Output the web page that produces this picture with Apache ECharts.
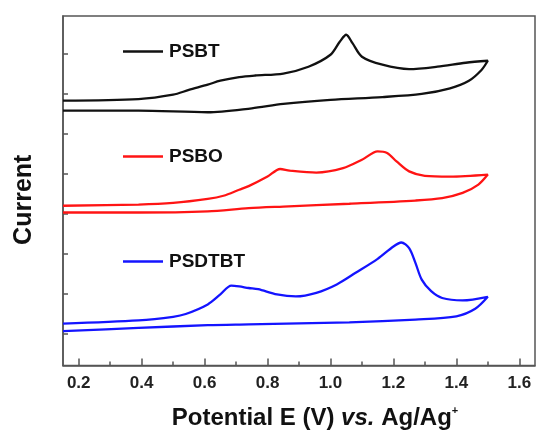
<!DOCTYPE html>
<html>
<head>
<meta charset="utf-8">
<script src="https://cdn.jsdelivr.net/npm/echarts@6/dist/echarts.min.js"></script>
<style>
  html, body { margin: 0; padding: 0; background: #fff; }
  #cv { width: 537px; height: 435px; }
</style>
</head>
<body>
<div id="cv"></div>
<script>
// potential (V) and current (a.u., stacked): forward scan then reverse
const psbtE = [0.15, 0.39, 0.50, 0.55, 0.61, 0.65, 0.71, 0.76, 0.85, 0.93, 1.00, 1.03, 1.05, 1.07, 1.10, 1.165, 1.25, 1.34, 1.43, 1.50,
               1.48, 1.44, 1.38, 1.29, 1.165, 1.00, 0.85, 0.75, 0.61, 0.39, 0.15];
const psbtI = [6.63, 6.67, 6.78, 6.90, 7.03, 7.13, 7.22, 7.26, 7.31, 7.48, 7.78, 8.11, 8.28, 8.07, 7.73, 7.53, 7.42, 7.48, 7.58, 7.63,
               7.40, 7.13, 6.94, 6.80, 6.72, 6.65, 6.55, 6.44, 6.34, 6.38, 6.38];

const psboE = [0.15, 0.39, 0.50, 0.61, 0.66, 0.71, 0.74, 0.80, 0.84, 0.87, 0.955, 1.04, 1.10, 1.15, 1.18, 1.21, 1.25, 1.30, 1.38, 1.50,
               1.47, 1.42, 1.355, 1.27, 1.06, 0.85, 0.74, 0.61, 0.39, 0.15];
const psboI = [4.00, 4.03, 4.07, 4.17, 4.25, 4.40, 4.49, 4.73, 4.92, 4.88, 4.83, 4.94, 5.15, 5.36, 5.32, 5.11, 4.86, 4.75, 4.73, 4.78,
               4.53, 4.32, 4.19, 4.13, 4.05, 3.98, 3.94, 3.86, 3.83, 3.83];

const psdtbtE = [0.15, 0.39, 0.50, 0.54, 0.61, 0.65, 0.685, 0.71, 0.74, 0.77, 0.83, 0.89, 0.955, 1.02, 1.08, 1.15, 1.20, 1.225, 1.25, 1.27, 1.29, 1.32, 1.355, 1.42, 1.50,
                 1.46, 1.40, 1.27, 1.06, 0.74, 0.61, 0.39, 0.15];
const psdtbtI = [1.05, 1.13, 1.22, 1.29, 1.53, 1.78, 2.00, 1.98, 1.94, 1.91, 1.78, 1.73, 1.82, 2.03, 2.32, 2.67, 2.98, 3.08, 2.94, 2.57, 2.15, 1.86, 1.69, 1.63, 1.72,
                 1.42, 1.23, 1.15, 1.08, 1.03, 1.01, 0.94, 0.86];

const names = ['PSBT', 'PSBO', 'PSDTBT'];
const colors = ['#111111', '#ff1414', '#1414ff'];
const xMajor = [0.2, 0.4, 0.6, 0.8, 1.0, 1.2, 1.4, 1.6];
const xMinor = [0.3, 0.5, 0.7, 0.9, 1.1, 1.3, 1.5];
const yTicks = [0.8, 1.8, 2.8, 3.8, 4.8, 5.8, 6.8, 7.8];

function pairs(xs, ys) {
    return xs.map((x, i) => [x, ys[i]]);
}

const chart = echarts.init(document.getElementById('cv'));
const font = 'Liberation Sans, Arial, sans-serif';
const axisGray = '#555';
const legendTops = [42, 147, 252];

chart.setOption({
    animation: false,
    grid: { left: 63, right: 2, top: 16, bottom: 69, show: true, borderColor: axisGray, borderWidth: 1.5 },
    legend: names.map((n, i) => ({
        data: [n], left: 123, top: legendTops[i], padding: 0,
        icon: 'rect', itemWidth: 40, itemHeight: 2.5, itemGap: 0,
        textStyle: { fontFamily: font, fontWeight: 'bold', fontSize: 19, color: '#111', padding: [0, 0, 0, 1] }
    })),
    xAxis: [{
        type: 'value', min: 0.15, max: 1.65, position: 'bottom',
        name: '{a|Potential E (V) }{b|vs.}{a| Ag/Ag}{c|+}',
        nameLocation: 'middle', nameGap: 40,
        nameTextStyle: {
            padding: [0, 0, 0, 32],
            rich: {
                a: { fontFamily: font, fontWeight: 'bold', fontSize: 24, color: '#111' },
                b: { fontFamily: font, fontWeight: 'bold', fontStyle: 'italic', fontSize: 24, color: '#111' },
                c: { fontFamily: font, fontWeight: 'bold', fontSize: 11, color: '#111', verticalAlign: 'top', padding: [0, 0, 14, 0] }
            }
        },
        splitLine: { show: false },
        axisLine: { lineStyle: { color: axisGray, width: 1.5 } },
        axisTick: { inside: true, length: 7, customValues: xMajor, lineStyle: { color: axisGray, width: 1.5 } },
        axisLabel: {
            customValues: xMajor, margin: 9,
            fontFamily: font, fontWeight: 'bold', fontSize: 17, color: '#222',
            formatter: v => v.toFixed(1)
        }
    }, {
        type: 'value', min: 0.15, max: 1.65, position: 'bottom', offset: 0,
        splitLine: { show: false },
        axisLine: { show: false },
        axisTick: { inside: true, length: 4, customValues: xMinor, lineStyle: { color: axisGray, width: 1.5 } },
        axisLabel: { show: false }
    }],
    yAxis: {
        type: 'value', min: 0, max: 8.75,
        name: 'Current', nameLocation: 'middle', nameGap: 26,
        nameTextStyle: { fontFamily: font, fontWeight: 'bold', fontSize: 25, color: '#111', padding: [0, 18, 0, 0] },
        splitLine: { show: false },
        axisLine: { show: true, lineStyle: { color: axisGray, width: 1.5 } },
        axisTick: { show: true, inside: true, length: 5, customValues: yTicks, lineStyle: { color: axisGray, width: 1.5 } },
        axisLabel: { show: false }
    },
    series: [
        pairs(psbtE, psbtI), pairs(psboE, psboI), pairs(psdtbtE, psdtbtI)
    ].map((d, i) => ({
        name: names[i], type: 'line', xAxisIndex: 0, data: d,
        symbol: 'none', smooth: 0.3,
        lineStyle: { color: colors[i], width: 2.3 },
        itemStyle: { color: colors[i] }
    }))
});
</script>
</body>
</html>
